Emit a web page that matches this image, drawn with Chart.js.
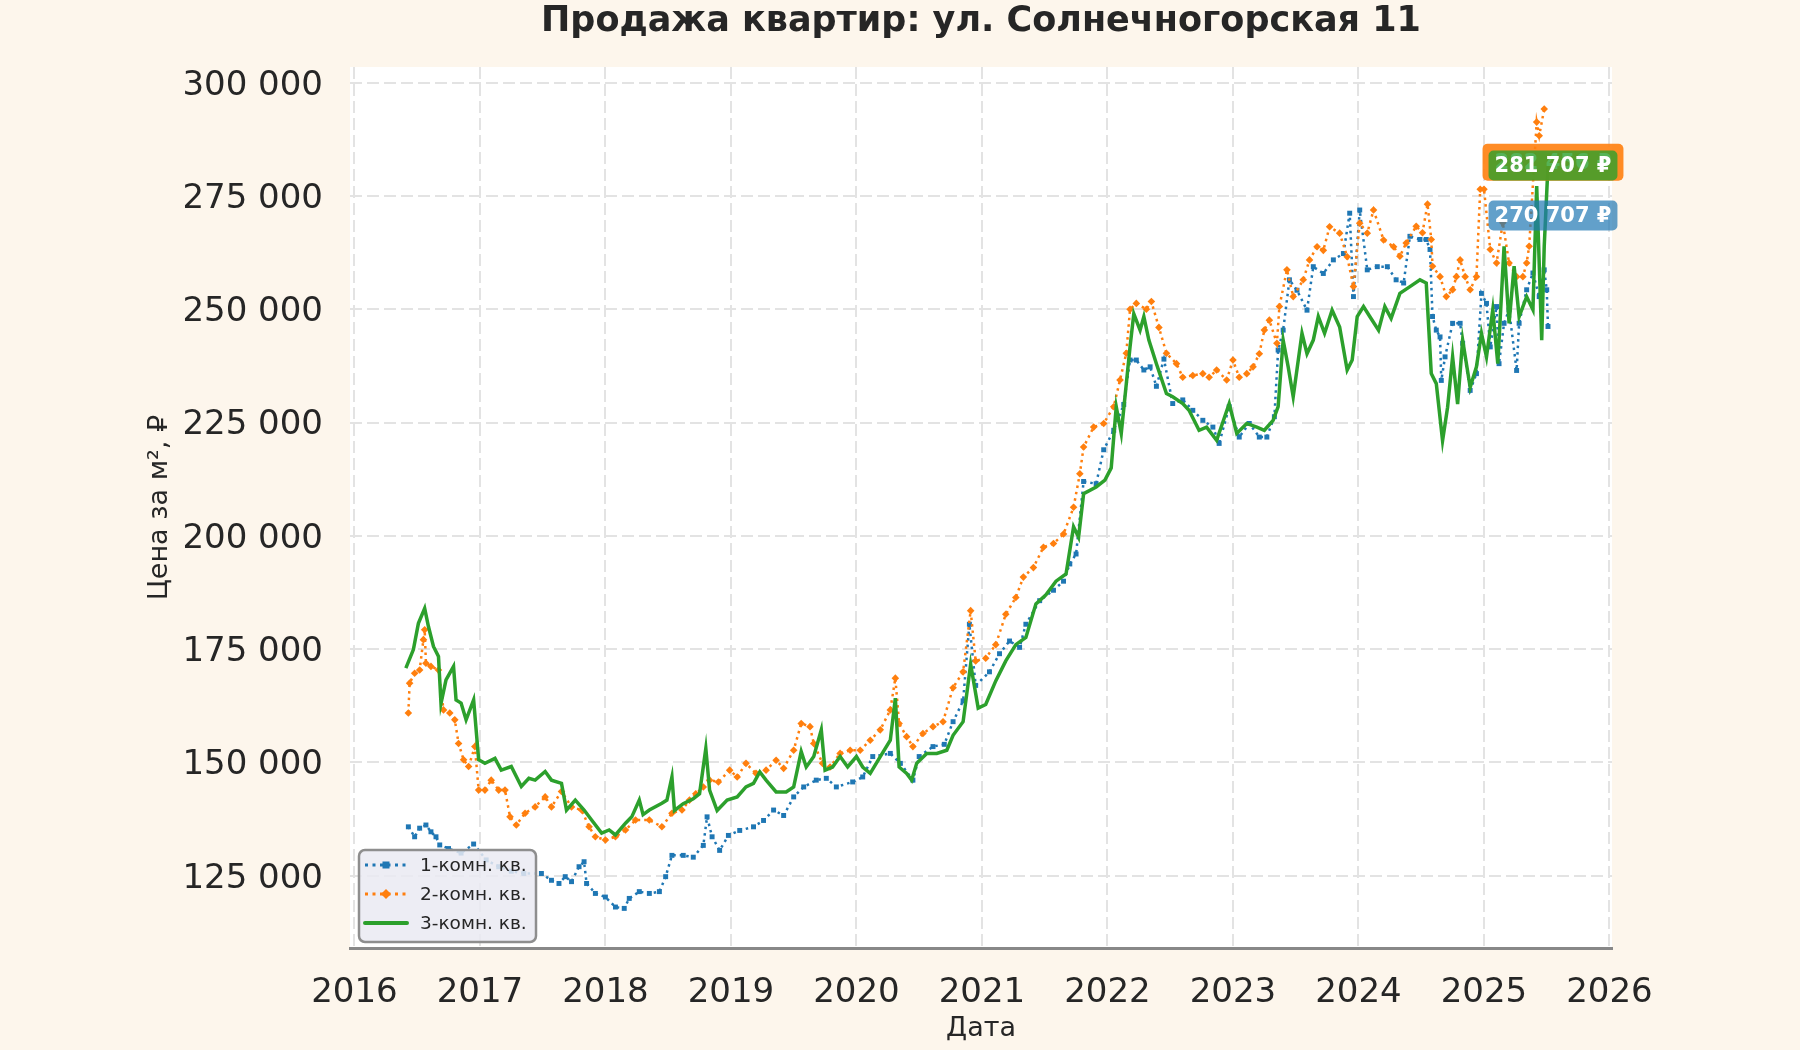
<!DOCTYPE html>
<html lang="ru">
<head>
<meta charset="utf-8">
<title>Продажа квартир</title>
<script src="https://cdn.jsdelivr.net/npm/chart.js@4.4.1/dist/chart.umd.min.js"></script>
<style>
  html, body { margin: 0; padding: 0; background: #fdf6ec; }
  #wrap { width: 1800px; height: 1050px; }
</style>
</head>
<body>
<div id="wrap"><canvas id="priceChart" width="1800" height="1050"></canvas></div>
<script>
const chartTitle = 'Продажа квартир: ул. Солнечногорская 11';
const xTitle = 'Дата';
const yTitle = 'Цена за м², ₽';
const seriesNames = ['1-комн. кв.', '2-комн. кв.', '3-комн. кв.'];
const seriesColors = ['#1f77b4', '#ff7f0e', '#2ca02c'];
const xTicks = [2016, 2017, 2018, 2019, 2020, 2021, 2022, 2023, 2024, 2025, 2026];
const yTicks = [125000, 150000, 175000, 200000, 225000, 250000, 275000, 300000];

// values: date as fractional year, price in thousand ₽ per m²
const dates1 = [
  2016.43, 2016.48, 2016.52, 2016.57, 2016.61, 2016.65, 2016.68, 2016.75, 2016.85, 2016.95,
  2017.05, 2017.15, 2017.25, 2017.35, 2017.49, 2017.57, 2017.63, 2017.68, 2017.73, 2017.79, 2017.83, 2017.85, 2017.92,
  2018.00, 2018.08, 2018.15, 2018.19, 2018.27, 2018.35, 2018.43, 2018.48, 2018.53, 2018.62, 2018.70, 2018.78, 2018.81, 2018.85, 2018.91, 2018.98,
  2019.07, 2019.18, 2019.26, 2019.34, 2019.42, 2019.50, 2019.58, 2019.68, 2019.76, 2019.84, 2019.97,
  2020.05, 2020.13, 2020.27, 2020.35, 2020.45, 2020.50, 2020.61, 2020.70, 2020.77, 2020.85, 2020.90, 2020.95,
  2021.06, 2021.14, 2021.22, 2021.30, 2021.35, 2021.46, 2021.57, 2021.65, 2021.70, 2021.75, 2021.81, 2021.91, 2021.97,
  2022.05, 2022.13, 2022.18, 2022.23, 2022.29, 2022.34, 2022.39, 2022.45, 2022.52, 2022.60, 2022.68, 2022.76, 2022.84, 2022.89, 2022.97,
  2023.05, 2023.13, 2023.21, 2023.27, 2023.33, 2023.36, 2023.40, 2023.45, 2023.51, 2023.59, 2023.64, 2023.72, 2023.80, 2023.88, 2023.93, 2023.96,
  2024.01, 2024.07, 2024.15, 2024.23, 2024.30, 2024.36, 2024.41, 2024.49, 2024.54, 2024.57, 2024.59, 2024.62, 2024.65, 2024.66, 2024.69, 2024.75, 2024.81, 2024.83, 2024.89, 2024.94, 2024.98,
  2025.02, 2025.05, 2025.10, 2025.12, 2025.16, 2025.20, 2025.26, 2025.28, 2025.34, 2025.39, 2025.44, 2025.48, 2025.50, 2025.51
];
const prices1 = [
  135.8, 133.6, 135.5, 136.2, 134.7, 133.6, 131.8, 131.0, 130.0, 132.0,
  128.5, 127.0, 126.0, 125.5, 125.5, 124.0, 123.3, 124.8, 123.7, 127.0, 128.1, 123.3, 121.1,
  120.3, 118.1, 117.8, 120.0, 121.5, 121.1, 121.5, 124.8, 129.5, 129.5, 129.1, 131.7, 138.0, 133.6, 130.6, 133.9,
  135.0, 135.8, 137.2, 139.5, 138.3, 142.4, 144.6, 146.1, 146.5, 144.6, 145.7,
  146.8, 151.3, 152.0, 149.8, 146.1, 151.3, 153.5, 154.0, 159.0, 163.6, 180.5, 167.0,
  170.0, 174.0, 176.8, 175.4, 180.5, 185.7, 188.0, 190.0, 193.8, 196.0, 212.0, 211.5, 219.0,
  223.3, 229.0, 238.8, 238.8, 236.6, 237.3, 233.0, 239.0, 229.2, 230.0, 227.7, 225.5, 224.0, 220.4, 228.5,
  221.8, 224.8, 221.8, 221.8, 226.3, 241.0, 245.4, 256.5, 254.2, 249.8, 259.4, 257.9, 260.9, 262.3, 271.2, 252.8,
  271.9, 258.7, 259.4, 259.4, 256.5, 255.8, 266.1, 265.4, 265.4, 263.2, 248.4, 245.4, 243.9, 234.3, 239.5, 246.9, 246.9, 242.5, 232.1, 235.8, 253.5,
  251.3, 241.7, 250.6, 238.0, 246.9, 249.9, 236.5, 246.9, 254.3, 258.0, 252.8, 258.7, 254.3, 246.2
];

const dates2 = [
  2016.43, 2016.44, 2016.48, 2016.52, 2016.55, 2016.56, 2016.57, 2016.61, 2016.67, 2016.71, 2016.76, 2016.80, 2016.83, 2016.87, 2016.91, 2016.96, 2016.99,
  2017.04, 2017.09, 2017.15, 2017.20, 2017.24, 2017.29, 2017.36, 2017.44, 2017.52, 2017.57, 2017.65, 2017.73, 2017.81, 2017.87, 2017.92,
  2018.00, 2018.08, 2018.16, 2018.24, 2018.35, 2018.45, 2018.53, 2018.61, 2018.67, 2018.72, 2018.78, 2018.83, 2018.90, 2018.99,
  2019.05, 2019.12, 2019.20, 2019.28, 2019.36, 2019.42, 2019.50, 2019.56, 2019.63, 2019.66, 2019.73, 2019.79, 2019.87, 2019.95,
  2020.03, 2020.11, 2020.19, 2020.27, 2020.31, 2020.34, 2020.40, 2020.45, 2020.53, 2020.61, 2020.69, 2020.77, 2020.85, 2020.91, 2020.95,
  2021.03, 2021.11, 2021.19, 2021.27, 2021.33, 2021.41, 2021.49, 2021.57, 2021.65, 2021.73, 2021.78, 2021.81, 2021.89, 2021.97,
  2022.05, 2022.10, 2022.15, 2022.18, 2022.23, 2022.31, 2022.35, 2022.41, 2022.47, 2022.55, 2022.60, 2022.68, 2022.76, 2022.81, 2022.87, 2022.95,
  2023.00, 2023.05, 2023.11, 2023.16, 2023.21, 2023.25, 2023.29, 2023.35, 2023.37, 2023.43, 2023.48, 2023.56, 2023.61, 2023.67, 2023.72, 2023.77, 2023.85, 2023.91, 2023.96,
  2024.01, 2024.07, 2024.12, 2024.20, 2024.28, 2024.33, 2024.38, 2024.46, 2024.51, 2024.55, 2024.58, 2024.59, 2024.65, 2024.70, 2024.75, 2024.78, 2024.81, 2024.85, 2024.89, 2024.94, 2024.97,
  2025.00, 2025.05, 2025.10, 2025.15, 2025.20, 2025.26, 2025.31, 2025.34, 2025.36, 2025.42, 2025.44, 2025.48
];
const prices2 = [
  160.9, 167.5, 169.7, 170.4, 177.1, 179.3, 171.9, 171.2, 170.4, 161.6, 160.9, 159.4, 154.2, 150.6, 149.1, 153.5, 143.9,
  143.9, 146.1, 143.9, 143.9, 138.0, 136.2, 138.8, 140.2, 142.4, 140.2, 143.6, 140.2, 139.5, 135.8, 133.6,
  132.9, 133.6, 135.1, 137.3, 137.3, 135.8, 138.8, 139.5, 141.7, 143.1, 144.6, 146.1, 145.7, 148.3,
  146.8, 149.8, 147.6, 148.3, 150.5, 148.7, 152.7, 158.6, 157.9, 154.2, 149.8, 149.0, 152.0, 152.7,
  152.7, 154.9, 157.2, 161.6, 168.6, 158.6, 155.7, 153.5, 156.4, 157.9, 159.0, 166.5, 170.0, 183.5, 172.4,
  173.0, 176.0, 182.7, 186.4, 190.9, 193.0, 197.5, 198.3, 200.4, 206.3, 213.7, 219.6, 224.0, 224.8,
  228.5, 234.4, 240.3, 250.0, 251.3, 250.0, 251.7, 246.0, 240.3, 238.0, 235.0, 235.4, 235.8, 235.0, 236.6, 234.4,
  238.8, 235.0, 235.8, 237.3, 240.2, 245.4, 247.6, 242.5, 250.6, 258.7, 252.8, 256.5, 260.9, 263.8, 263.0, 268.2, 266.8, 261.6, 255.0,
  269.0, 266.8, 271.9, 265.3, 263.8, 261.7, 264.6, 268.3, 266.9, 273.2, 265.4, 259.5, 257.2, 252.8, 254.3, 257.2, 260.9, 257.2, 254.3, 257.2, 276.5,
  276.5, 263.2, 260.2, 269.1, 260.2, 257.2, 257.2, 260.2, 263.9, 291.3, 288.3, 294.2
];

const dates3 = [
  2016.41, 2016.47, 2016.51, 2016.56, 2016.59, 2016.63, 2016.67, 2016.69, 2016.73, 2016.79, 2016.81, 2016.85, 2016.89, 2016.95, 2016.99,
  2017.04, 2017.12, 2017.17, 2017.25, 2017.33, 2017.39, 2017.44, 2017.52, 2017.57, 2017.65, 2017.69, 2017.76, 2017.83, 2017.89, 2017.97,
  2018.03, 2018.08, 2018.16, 2018.21, 2018.27, 2018.30, 2018.35, 2018.45, 2018.49, 2018.53, 2018.55, 2018.62, 2018.70, 2018.75, 2018.80, 2018.83, 2018.89, 2018.97,
  2019.05, 2019.12, 2019.18, 2019.23, 2019.28, 2019.36, 2019.44, 2019.50, 2019.56, 2019.60, 2019.66, 2019.72, 2019.75, 2019.81, 2019.87, 2019.93,
  2020.00, 2020.05, 2020.11, 2020.19, 2020.27, 2020.31, 2020.34, 2020.40, 2020.44, 2020.48, 2020.56, 2020.64, 2020.72, 2020.77, 2020.85, 2020.91, 2020.97,
  2021.03, 2021.11, 2021.19, 2021.27, 2021.35, 2021.43, 2021.51, 2021.59, 2021.67, 2021.73, 2021.77, 2021.81, 2021.91, 2021.98,
  2022.03, 2022.07, 2022.11, 2022.18, 2022.21, 2022.26, 2022.29, 2022.33, 2022.39, 2022.47, 2022.52, 2022.60, 2022.65, 2022.73, 2022.79, 2022.87, 2022.97,
  2023.03, 2023.11, 2023.19, 2023.25, 2023.32, 2023.36, 2023.40, 2023.44, 2023.48, 2023.55, 2023.59, 2023.64, 2023.68, 2023.73, 2023.79, 2023.85, 2023.91, 2023.95, 2023.99,
  2024.04, 2024.09, 2024.16, 2024.21, 2024.26, 2024.33, 2024.41, 2024.49, 2024.54, 2024.58, 2024.62, 2024.67, 2024.71, 2024.75, 2024.79, 2024.83, 2024.89, 2024.94, 2024.98,
  2025.02, 2025.07, 2025.11, 2025.16, 2025.20, 2025.24, 2025.28, 2025.34, 2025.39, 2025.42, 2025.46, 2025.48, 2025.51
];
const prices3 = [
  170.8, 174.9, 180.7, 184.0, 180.0, 175.6, 173.4, 163.0, 168.2, 171.2, 163.8, 163.1, 159.4, 163.8, 150.6,
  149.8, 150.9, 148.3, 149.1, 144.7, 146.5, 146.1, 148.0, 146.1, 145.4, 139.5, 141.7, 139.5, 137.3, 134.4,
  135.1, 134.0, 136.6, 138.0, 141.7, 138.5, 139.5, 141.0, 141.7, 146.8, 139.4, 140.9, 142.0, 143.1, 153.1, 143.9, 139.4, 141.7,
  142.4, 144.6, 145.4, 147.9, 146.1, 143.5, 143.5, 144.6, 152.4, 149.0, 151.3, 157.2, 148.3, 149.0, 151.3, 149.0,
  151.3, 149.0, 147.6, 151.3, 154.9, 164.2, 149.0, 147.6, 146.1, 149.8, 152.0, 152.0, 152.7, 156.0, 159.0, 171.7, 162.0,
  162.8, 168.0, 172.4, 176.0, 177.6, 185.0, 187.0, 190.0, 191.6, 202.0, 199.7, 209.3, 210.8, 212.3,
  215.0, 228.5, 222.6, 241.7, 249.0, 245.4, 248.4, 243.2, 238.0, 231.4, 230.7, 229.2, 227.7, 223.3, 224.0, 221.1, 229.2,
  222.6, 224.8, 224.0, 223.3, 225.5, 228.5, 243.2, 237.3, 230.7, 244.7, 240.2, 243.2, 248.4, 244.7, 249.8, 246.1, 236.6, 238.8, 248.4,
  250.6, 248.4, 245.4, 250.6, 248.0, 253.5, 255.0, 256.5, 255.8, 235.8, 233.6, 221.0, 228.4, 239.5, 229.1, 243.2, 232.8, 237.3, 244.7,
  239.5, 249.9, 238.0, 263.9, 246.9, 259.5, 248.4, 252.8, 249.9, 277.2, 243.2, 263.9, 281.7
];

// value boxes at the right end, in ₽
const endLabelValues = [270707, 282456, 281707];

const fontFamily = '"DejaVu Sans", sans-serif';
const textColor = '#262626';

function fmtNumber(v) {
    return Math.round(v).toString().replace(/\B(?=(\d{3})+(?!\d))/g, ' ');
}

function toPoints(dates, prices) {
    return dates.map((d, i) => ({ x: d, y: prices[i] * 1000 }));
}

function roundRect(ctx, x, y, w, h, r) {
    ctx.beginPath();
    ctx.moveTo(x + r, y);
    ctx.arcTo(x + w, y, x + w, y + h, r);
    ctx.arcTo(x + w, y + h, x, y + h, r);
    ctx.arcTo(x, y + h, x, y, r);
    ctx.arcTo(x, y, x + w, y, r);
    ctx.closePath();
}

const backgroundPlugin = {
    id: 'background',
    beforeDraw(chart) {
        const { ctx, chartArea: a } = chart;
        ctx.save();
        ctx.fillStyle = '#fdf6ec';
        ctx.fillRect(0, 0, chart.width, chart.height);
        ctx.fillStyle = '#ffffff';
        ctx.fillRect(a.left, a.top, a.right - a.left, a.bottom - a.top);
        ctx.fillStyle = textColor;
        ctx.font = 'bold 35px ' + fontFamily;
        ctx.textAlign = 'center';
        ctx.textBaseline = 'middle';
        ctx.fillText(chartTitle, (a.left + a.right) / 2, 22);
        ctx.restore();
    }
};

function drawSample(ctx, i, x0, x1, y) {
    const c = seriesColors[i];
    const mid = (x0 + x1) / 2;
    ctx.save();
    ctx.strokeStyle = c;
    ctx.fillStyle = c;
    ctx.beginPath();
    ctx.moveTo(x0, y);
    ctx.lineTo(x1, y);
    if (i === 2) {
        ctx.lineWidth = 4;
        ctx.lineCap = 'round';
        ctx.stroke();
    } else {
        ctx.lineWidth = 3;
        ctx.setLineDash([3, 4.5]);
        ctx.stroke();
        ctx.setLineDash([]);
        if (i === 0) {
            ctx.fillRect(mid - 3.5, y - 3.5, 7, 7);
        } else {
            ctx.beginPath();
            ctx.moveTo(mid, y - 5);
            ctx.lineTo(mid + 5, y);
            ctx.lineTo(mid, y + 5);
            ctx.lineTo(mid - 5, y);
            ctx.closePath();
            ctx.fill();
        }
    }
    ctx.restore();
}

const overlayPlugin = {
    id: 'overlay',
    afterDraw(chart) {
        const { ctx, chartArea: a, scales } = chart;

        // value boxes at the last date
        const lastDate = Math.max(...dates1, ...dates2, ...dates3);
        const cx = scales.x.getPixelForValue(lastDate) + 5;
        const boxFill = ['rgba(31,119,180,0.7)', 'rgba(255,127,14,0.9)', 'rgba(44,160,44,0.8)'];
        const padX = [6, 12, 6];
        const halfH = [15, 18.5, 15];
        ctx.save();
        ctx.font = 'bold 21px ' + fontFamily;
        ctx.textAlign = 'center';
        ctx.textBaseline = 'middle';
        [1, 2, 0].forEach(i => {
            const text = fmtNumber(endLabelValues[i]) + ' ₽';
            const cy = scales.y.getPixelForValue(endLabelValues[i]);
            const w = ctx.measureText(text).width + 2 * padX[i];
            ctx.fillStyle = boxFill[i];
            roundRect(ctx, cx - w / 2, cy - halfH[i], w, 2 * halfH[i], 5);
            ctx.fill();
            ctx.fillStyle = '#ffffff';
            ctx.fillText(text, cx, cy + 1);
        });
        ctx.restore();

        // legend
        const bx = a.left + 9, by = a.bottom - 98, bw = 177, bh = 92;
        ctx.save();
        roundRect(ctx, bx, by, bw, bh, 6);
        ctx.fillStyle = 'rgba(234,234,242,0.85)';
        ctx.fill();
        ctx.lineWidth = 2.5;
        ctx.strokeStyle = '#8e8e8e';
        ctx.stroke();
        ctx.font = '18.5px ' + fontFamily;
        ctx.fillStyle = textColor;
        ctx.textAlign = 'left';
        ctx.textBaseline = 'middle';
        seriesNames.forEach((name, i) => {
            const ry = by + 15 + i * 29;
            drawSample(ctx, i, bx + 6, bx + 48, ry);
            ctx.fillText(name, bx + 61, ry + 1);
        });
        ctx.restore();
    }
};

Chart.defaults.font.family = fontFamily;

new Chart(document.getElementById('priceChart'), {
    type: 'line',
    data: {
        datasets: [
            {
                label: seriesNames[0],
                data: toPoints(dates1, prices1),
                borderColor: seriesColors[0],
                backgroundColor: seriesColors[0],
                borderWidth: 2.5,
                borderDash: [2.5, 4],
                pointStyle: 'rect',
                pointRadius: 3.5,
                pointBorderWidth: 0,
                tension: 0,
                order: 2
            },
            {
                label: seriesNames[1],
                data: toPoints(dates2, prices2),
                borderColor: seriesColors[1],
                backgroundColor: seriesColors[1],
                borderWidth: 2.5,
                borderDash: [2.5, 4],
                pointStyle: 'rectRot',
                pointRadius: 3.8,
                pointBorderWidth: 0,
                tension: 0,
                order: 1
            },
            {
                label: seriesNames[2],
                data: toPoints(dates3, prices3),
                borderColor: seriesColors[2],
                backgroundColor: seriesColors[2],
                borderWidth: 3.5,
                pointRadius: 0,
                tension: 0,
                order: 0
            }
        ]
    },
    options: {
        responsive: false,
        animation: false,
        devicePixelRatio: 1,
        layout: { padding: { top: 67, right: 188, bottom: 0, left: 0 } },
        plugins: {
            legend: { display: false },
            tooltip: { enabled: false },
            title: { display: false }
        },
        scales: {
            x: {
                type: 'linear',
                min: 2015.965,
                max: 2026.02,
                afterBuildTicks: s => { s.ticks = xTicks.map(v => ({ value: v })); },
                afterFit: s => { s.height = 102; },
                ticks: {
                    autoSkip: false,
                    maxRotation: 0,
                    padding: 25,
                    color: textColor,
                    font: { size: 34 },
                    callback: v => String(v)
                },
                grid: { color: '#e3e3e3', lineWidth: 2, drawTicks: false },
                border: { display: true, color: '#888888', width: 3, dash: [12, 5] },
                title: {
                    display: true,
                    text: xTitle,
                    color: textColor,
                    font: { size: 27 },
                    padding: { top: 0, bottom: 5 }
                }
            },
            y: {
                type: 'linear',
                min: 109060,
                max: 303460,
                afterBuildTicks: s => { s.ticks = yTicks.map(v => ({ value: v })); },
                afterFit: s => { s.width = 350; },
                ticks: {
                    padding: 27,
                    labelOffset: 3,
                    color: textColor,
                    font: { size: 34 },
                    callback: v => fmtNumber(v)
                },
                grid: { color: '#e3e3e3', lineWidth: 2, drawTicks: false },
                border: { display: false, dash: [12, 5] },
                title: {
                    display: true,
                    text: yTitle,
                    color: textColor,
                    font: { size: 27 },
                    padding: { top: 144, bottom: 0 }
                }
            }
        }
    },
    plugins: [backgroundPlugin, overlayPlugin]
});
</script>
</body>
</html>
